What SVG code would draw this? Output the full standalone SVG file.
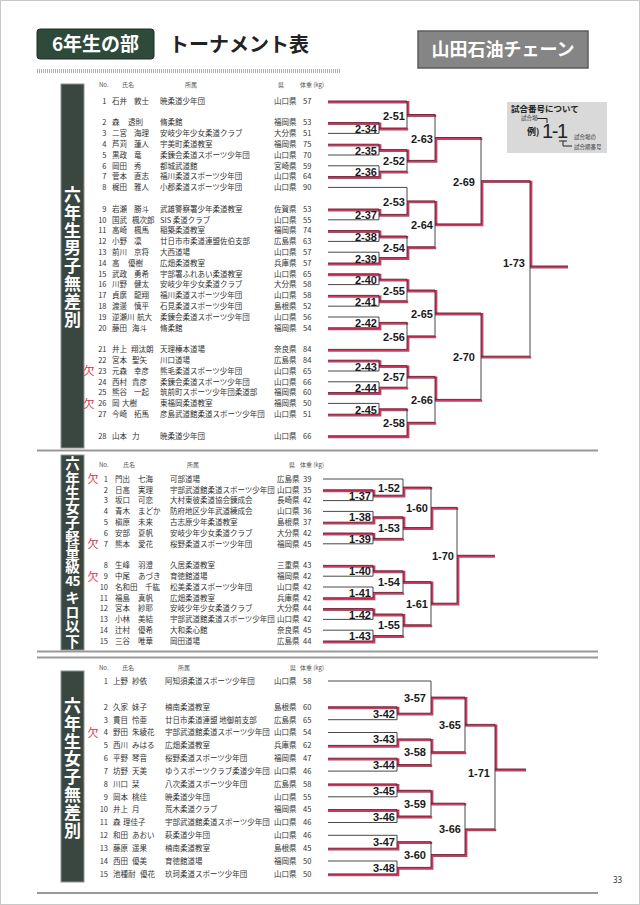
<svg xmlns="http://www.w3.org/2000/svg" width="640" height="905" viewBox="0 0 640 905">
<style>
.t{font-family:"Noto Sans CJK JP","Noto Sans",sans-serif;font-size:7.5px;fill:#333}
.n{text-anchor:end}
.h{font-size:6px;fill:#555}
.lb{font-family:"Liberation Sans",Arial,sans-serif;font-weight:bold;font-size:11px;fill:#1a1a1a;text-anchor:end}
.vt{font-family:"Noto Sans CJK JP",sans-serif;font-weight:bold;fill:#fff;text-anchor:middle}
.vv{font-family:"Noto Sans CJK JP",sans-serif;font-weight:bold;fill:#fff;writing-mode:vertical-rl;text-orientation:upright}
.ke{font-family:"Noto Sans CJK JP",sans-serif;font-size:11px;fill:#e0304a;text-anchor:middle}
.bk{fill:none;stroke:#333;stroke-width:0.9}
.rd{fill:none;stroke:#d8365f;stroke-width:2.4}
.vbox{fill:#3a4640;stroke:#8c948f;stroke-width:1}
.sep{stroke:#999;stroke-width:2}
</style>
<rect x="0.5" y="0.5" width="639" height="904" fill="#fff" stroke="#c8c8c8"/>
<g id="header">
<rect x="37" y="29" width="117" height="30" rx="3" fill="#2e4a3b" stroke="#1d2f25"/>
<text x="95.5" y="51" class="vt" font-size="19">6年生の部</text>
<text x="169" y="52" font-family="Noto Sans CJK JP,sans-serif" font-weight="bold" font-size="20" fill="#222">トーナメント表</text>
<line x1="37" y1="71" x2="341" y2="71" stroke="#999" stroke-width="4" stroke-dasharray="0.8 1.2"/>
<rect x="418" y="31" width="170" height="37" fill="#858585" stroke="#5c5c5c" stroke-width="1.5"/>
<text x="503" y="56" class="vt" font-size="18">山田石油チェーン</text>
</g>
<g id="info">
<rect x="507" y="102" width="100" height="51" fill="#d9d9d9"/>
<text x="511" y="112" font-family="Noto Sans CJK JP,sans-serif" font-weight="bold" font-size="8.5" fill="#222">試合番号について</text>
<text x="521" y="120" font-family="Noto Sans CJK JP,sans-serif" font-size="5.5" fill="#333">試合場</text>
<path d="M537 118.5H547V123" fill="none" stroke="#222" stroke-width="1"/>
<text x="527" y="135" font-family="Noto Sans CJK JP,sans-serif" font-weight="bold" font-size="9" fill="#222">例)</text>
<text x="542" y="138" font-family="Liberation Sans,Arial,sans-serif" font-size="20" fill="#222" textLength="26">1-1</text>
<path d="M559 141H567M563 141V146H572" fill="none" stroke="#222" stroke-width="1"/>
<text x="574" y="139" font-family="Noto Sans CJK JP,sans-serif" font-size="5.5" fill="#333">試合場の</text>
<text x="574" y="149" font-family="Noto Sans CJK JP,sans-serif" font-size="5.5" fill="#333">試合順番号</text>
</g>
<line class="sep" x1="37" y1="450.5" x2="598" y2="450.5"/>
<line class="sep" x1="37" y1="651.5" x2="598" y2="651.5"/>
<line class="sep" x1="37" y1="657.5" x2="598" y2="657.5"/>
<line class="sep" x1="37" y1="893" x2="598" y2="893"/>
<text x="613" y="883" font-family="Noto Sans,sans-serif" font-size="8" fill="#333">33</text>

<g id="label-s1">
<rect class="vbox" x="61" y="84" width="23" height="364"/>
<text class="vv" x="72.5" y="186" font-size="17" letter-spacing="0.8">六年生男子無差別</text>
</g>
<g id="label-s2">
<rect class="vbox" x="61" y="455" width="23" height="195"/>
<text class="vv" x="72.5" y="456" font-size="14.5" letter-spacing="0.3">六年生女子軽量級</text>
<text class="vt" x="72.5" y="585.5" font-size="13.5" letter-spacing="-0.6">45</text>
<text class="vv" x="72.5" y="590" font-size="14.5" letter-spacing="0.3">キロ以下</text>
</g>
<g id="label-s3">
<rect class="vbox" x="61" y="671" width="23" height="211"/>
<text class="vv" x="72.5" y="697" font-size="17" letter-spacing="0.8">六年生女子無差別</text>
</g>

<g id="connectors">
<path class="rd" d="M328 102.2H408.2V115.7H436.2M328 123.8H380.2V129.2H408.2M328 145.4H380.2V150.8H408.2V161.6H436.2V138.7H482.2M328 177.8H380.2V172.4H408.2M328 210.2H380.2V215.6H408.2V202.1H436.2V225.1H482.2V181.9H531.2V267.2H568M328 231.8H380.2V237.2H408.2M328 264.2H380.2V258.8H408.2V248H436.2M328 275H380.2V280.4H408.2V291.2H436.2V314.2H482.2V357.4H531.2M328 296.6H380.2V302H408.2M328 329H380.2V323.6H408.2M328 350.6H408.2V337.1H436.2M328 361.4H380.2V366.8H408.2V377.6H436.2V400.6H482.2M328 393.8H380.2V388.4H408.2M328 415.4H380.2V410H408.2M328 437H408.2V423.5H436.2"/>
<path class="rd" d="M323 491H374.2V496.4H404.2V488.3H432.2M323 523.4H374.2V518H404.2V528.8H432.2V508.6H458.2M323 534.2H374.2V539.6H404.2M323 566.6H374.2V572H404.2V582.8H432.2V604.4H458.2V556.5H495M323 599H374.2V593.6H404.2M323 609.8H374.2V615.2H404.2V626H432.2M323 642.2H374.2V636.8H404.2"/>
<path class="rd" d="M328 708H398.2V714.4H432.2V698.3H466.2V725.6H496.2V770.2H526M328 746.6H398.2V740.1H432.2V753H466.2M328 759.4H398.2V765.8H432.2M328 785.1H398.2V791.5H432.2V804.4H466.2M328 810.8H398.2V817.2H432.2M328 849.4H398.2V842.9H432.2M328 875.1H398.2V868.6H432.2V855.8H466.2V830.1H496.2"/>
<path class="bk" d="M328 122.6H379V133.4H328M328 144.2H379V155H328M328 165.8H379V176.6H328M328 209H379V219.8H328M328 230.6H379V241.4H328M328 252.2H379V263H328M328 273.8H379V284.6H328M328 295.4H379V306.2H328M328 317H379V327.8H328M328 360.2H379V371H328M328 381.8H379V392.6H328M328 403.4H379V414.2H328M328 101H407V128H379M379 149.6H407V171.2H379M328 187.4H407V214.4H379M379 236H407V257.6H379M379 279.2H407V300.8H379M379 322.4H407V349.4H328M379 365.6H407V387.2H379M379 408.8H407V435.8H328M407 114.5H435V160.4H407M407 200.9H435V246.8H407M407 290H435V335.9H407M407 376.4H435V422.3H407M435 137.5H481V223.9H435M435 313H481V399.4H435M481 180.7H530V356.2H481M530 266H568"/>
<path class="bk" d="M323 489.8H373V500.6H323M323 511.4H373V522.2H323M323 533H373V543.8H323M323 565.4H373V576.2H323M323 587H373V597.8H323M323 608.6H373V619.4H323M323 630.2H373V641H323M323 479H403V495.2H373M373 516.8H403V538.4H373M373 570.8H403V592.4H373M373 614H403V635.6H373M403 487.1H431V527.6H403M403 581.6H431V624.8H403M431 507.4H457V603.2H431M457 555.3H495"/>
<path class="bk" d="M328 706.8H397V719.7H328M328 732.5H397V745.4H328M328 758.2H397V771.1H328M328 783.9H397V796.8H328M328 809.6H397V822.5H328M328 835.3H397V848.2H328M328 861H397V873.9H328M328 681H431V713.2H397M397 738.9H431V764.6H397M397 790.3H431V816H397M397 841.7H431V867.4H397M431 697.1H465V751.8H431M431 803.2H465V854.6H431M465 724.4H495V828.9H465M495 769H526"/>
</g>

<g id="matches">
<g id="m2-34"><text class="lb" x="377" y="133">2-34</text></g>
<g id="m2-35"><text class="lb" x="377" y="154.6">2-35</text></g>
<g id="m2-36"><text class="lb" x="377" y="176.2">2-36</text></g>
<g id="m2-37"><text class="lb" x="377" y="219.4">2-37</text></g>
<g id="m2-38"><text class="lb" x="377" y="241">2-38</text></g>
<g id="m2-39"><text class="lb" x="377" y="262.6">2-39</text></g>
<g id="m2-40"><text class="lb" x="377" y="284.2">2-40</text></g>
<g id="m2-41"><text class="lb" x="377" y="305.8">2-41</text></g>
<g id="m2-42"><text class="lb" x="377" y="327.4">2-42</text></g>
<g id="m2-43"><text class="lb" x="377" y="370.6">2-43</text></g>
<g id="m2-44"><text class="lb" x="377" y="392.2">2-44</text></g>
<g id="m2-45"><text class="lb" x="377" y="413.8">2-45</text></g>
<g id="m2-51"><text class="lb" x="405" y="119.5">2-51</text></g>
<g id="m2-52"><text class="lb" x="405" y="165.4">2-52</text></g>
<g id="m2-53"><text class="lb" x="405" y="205.9">2-53</text></g>
<g id="m2-54"><text class="lb" x="405" y="251.8">2-54</text></g>
<g id="m2-55"><text class="lb" x="405" y="295">2-55</text></g>
<g id="m2-56"><text class="lb" x="405" y="340.9">2-56</text></g>
<g id="m2-57"><text class="lb" x="405" y="381.4">2-57</text></g>
<g id="m2-58"><text class="lb" x="405" y="427.3">2-58</text></g>
<g id="m2-63"><text class="lb" x="433" y="142.5">2-63</text></g>
<g id="m2-64"><text class="lb" x="433" y="228.9">2-64</text></g>
<g id="m2-65"><text class="lb" x="433" y="318">2-65</text></g>
<g id="m2-66"><text class="lb" x="433" y="404.4">2-66</text></g>
<g id="m2-69"><text class="lb" x="475" y="185.7">2-69</text></g>
<g id="m2-70"><text class="lb" x="475" y="361.2">2-70</text></g>
<g id="m1-73"><text class="lb" x="525" y="267">1-73</text></g>
<g id="m1-37"><text class="lb" x="371" y="499.7">1-37</text></g>
<g id="m1-38"><text class="lb" x="371" y="521.3">1-38</text></g>
<g id="m1-39"><text class="lb" x="371" y="542.9">1-39</text></g>
<g id="m1-40"><text class="lb" x="371" y="575.3">1-40</text></g>
<g id="m1-41"><text class="lb" x="371" y="596.9">1-41</text></g>
<g id="m1-42"><text class="lb" x="371" y="618.5">1-42</text></g>
<g id="m1-43"><text class="lb" x="371" y="640.1">1-43</text></g>
<g id="m1-52"><text class="lb" x="400" y="491.6">1-52</text></g>
<g id="m1-53"><text class="lb" x="400" y="532.1">1-53</text></g>
<g id="m1-54"><text class="lb" x="400" y="586.1">1-54</text></g>
<g id="m1-55"><text class="lb" x="400" y="629.3">1-55</text></g>
<g id="m1-60"><text class="lb" x="428" y="511.9">1-60</text></g>
<g id="m1-61"><text class="lb" x="428" y="607.7">1-61</text></g>
<g id="m1-70"><text class="lb" x="454" y="559.8">1-70</text></g>
<g id="m3-42"><text class="lb" x="395" y="717.7">3-42</text></g>
<g id="m3-43"><text class="lb" x="395" y="743.4">3-43</text></g>
<g id="m3-44"><text class="lb" x="395" y="769.1">3-44</text></g>
<g id="m3-45"><text class="lb" x="395" y="794.8">3-45</text></g>
<g id="m3-46"><text class="lb" x="395" y="820.5">3-46</text></g>
<g id="m3-47"><text class="lb" x="395" y="846.2">3-47</text></g>
<g id="m3-48"><text class="lb" x="395" y="871.9">3-48</text></g>
<g id="m3-57"><text class="lb" x="426" y="701.6">3-57</text></g>
<g id="m3-58"><text class="lb" x="426" y="756.3">3-58</text></g>
<g id="m3-59"><text class="lb" x="426" y="807.7">3-59</text></g>
<g id="m3-60"><text class="lb" x="426" y="859.1">3-60</text></g>
<g id="m3-65"><text class="lb" x="461" y="728.9">3-65</text></g>
<g id="m3-66"><text class="lb" x="461" y="833.4">3-66</text></g>
<g id="m1-71"><text class="lb" x="490" y="777">1-71</text></g>
</g>

<g id="s1" class="t">
<g class="h"><text x="99" y="87">No.</text><text x="122" y="87">氏名</text><text x="185" y="87">所属</text><text x="278" y="87">県</text><text x="300" y="87">体重 (kg)</text></g>
<g id="s1p1"><text class="n" x="106.5" y="103.8">1</text><text x="112" y="103.8">石井<tspan x="134">敦士</tspan></text><text x="160" y="103.8">暁柔道少年団</text><text x="274" y="103.8">山口県</text><text x="303" y="103.8">57</text></g>
<g id="s1p2"><text class="n" x="106.5" y="125.4">2</text><text x="112" y="125.4">森<tspan x="128">透則</tspan></text><text x="160" y="125.4">脩柔館</text><text x="274" y="125.4">福岡県</text><text x="303" y="125.4">53</text></g>
<g id="s1p3"><text class="n" x="106.5" y="136.2">3</text><text x="112" y="136.2">二宮<tspan x="134">海理</tspan></text><text x="160" y="136.2">安岐少年少女柔道クラブ</text><text x="274" y="136.2">大分県</text><text x="303" y="136.2">51</text></g>
<g id="s1p4"><text class="n" x="106.5" y="147">4</text><text x="112" y="147">芦苅<tspan x="134">蓮人</tspan></text><text x="160" y="147">宇美町柔道教室</text><text x="274" y="147">福岡県</text><text x="303" y="147">75</text></g>
<g id="s1p5"><text class="n" x="106.5" y="157.8">5</text><text x="112" y="157.8">黒政<tspan x="134">竜</tspan></text><text x="160" y="157.8">柔錬会柔道スポーツ少年団</text><text x="274" y="157.8">山口県</text><text x="303" y="157.8">70</text></g>
<g id="s1p6"><text class="n" x="106.5" y="168.6">6</text><text x="112" y="168.6">岡田<tspan x="134">秀</tspan></text><text x="160" y="168.6">都城武道館</text><text x="274" y="168.6">宮崎県</text><text x="303" y="168.6">59</text></g>
<g id="s1p7"><text class="n" x="106.5" y="179.4">7</text><text x="112" y="179.4">菅本<tspan x="134">直志</tspan></text><text x="160" y="179.4">福川柔道スポーツ少年団</text><text x="274" y="179.4">山口県</text><text x="303" y="179.4">64</text></g>
<g id="s1p8"><text class="n" x="106.5" y="190.2">8</text><text x="112" y="190.2">梶田<tspan x="134">雅人</tspan></text><text x="160" y="190.2">小郡柔道スポーツ少年団</text><text x="274" y="190.2">山口県</text><text x="303" y="190.2">90</text></g>
<g id="s1p9"><text class="n" x="106.5" y="211.8">9</text><text x="112" y="211.8">岩瀬<tspan x="134">勝斗</tspan></text><text x="160" y="211.8">武雄警察署少年柔道教室</text><text x="274" y="211.8">佐賀県</text><text x="303" y="211.8">53</text></g>
<g id="s1p10"><text class="n" x="106.5" y="222.6">10</text><text x="112" y="222.6">国武<tspan x="132">楓次郎</tspan></text><text x="160" y="222.6">SIS 柔道クラブ</text><text x="274" y="222.6">山口県</text><text x="303" y="222.6">55</text></g>
<g id="s1p11"><text class="n" x="106.5" y="233.4">11</text><text x="112" y="233.4">高崎<tspan x="134">楓馬</tspan></text><text x="160" y="233.4">稲築柔道教室</text><text x="274" y="233.4">福岡県</text><text x="303" y="233.4">74</text></g>
<g id="s1p12"><text class="n" x="106.5" y="244.2">12</text><text x="112" y="244.2">小野<tspan x="134">凛</tspan></text><text x="160" y="244.2">廿日市市柔道連盟佐伯支部</text><text x="274" y="244.2">広島県</text><text x="303" y="244.2">63</text></g>
<g id="s1p13"><text class="n" x="106.5" y="255">13</text><text x="112" y="255">前川<tspan x="134">京将</tspan></text><text x="160" y="255">大西道場</text><text x="274" y="255">山口県</text><text x="303" y="255">57</text></g>
<g id="s1p14"><text class="n" x="106.5" y="265.8">14</text><text x="112" y="265.8">高<tspan x="128">優樹</tspan></text><text x="160" y="265.8">広畑柔道教室</text><text x="274" y="265.8">兵庫県</text><text x="303" y="265.8">57</text></g>
<g id="s1p15"><text class="n" x="106.5" y="276.6">15</text><text x="112" y="276.6">武政<tspan x="134">勇希</tspan></text><text x="160" y="276.6">宇部署ふれあい柔道教室</text><text x="274" y="276.6">山口県</text><text x="303" y="276.6">65</text></g>
<g id="s1p16"><text class="n" x="106.5" y="287.4">16</text><text x="112" y="287.4">川野<tspan x="134">健太</tspan></text><text x="160" y="287.4">安岐少年少女柔道クラブ</text><text x="274" y="287.4">大分県</text><text x="303" y="287.4">58</text></g>
<g id="s1p17"><text class="n" x="106.5" y="298.2">17</text><text x="112" y="298.2">貞廣<tspan x="134">龍翔</tspan></text><text x="160" y="298.2">福川柔道スポーツ少年団</text><text x="274" y="298.2">山口県</text><text x="303" y="298.2">58</text></g>
<g id="s1p18"><text class="n" x="106.5" y="309">18</text><text x="112" y="309">渡邊<tspan x="134">慎平</tspan></text><text x="160" y="309">石見柔道スポーツ少年団</text><text x="274" y="309">島根県</text><text x="303" y="309">52</text></g>
<g id="s1p19"><text class="n" x="106.5" y="319.8">19</text><text x="112" y="319.8">逆瀬川<tspan x="137">航大</tspan></text><text x="160" y="319.8">柔錬会柔道スポーツ少年団</text><text x="274" y="319.8">山口県</text><text x="303" y="319.8">56</text></g>
<g id="s1p20"><text class="n" x="106.5" y="330.6">20</text><text x="112" y="330.6">藤田<tspan x="132">海斗</tspan></text><text x="160" y="330.6">脩柔館</text><text x="274" y="330.6">福岡県</text><text x="303" y="330.6">54</text></g>
<g id="s1p21"><text class="n" x="106.5" y="352.2">21</text><text x="112" y="352.2">井上<tspan x="131">翔汰朗</tspan></text><text x="160" y="352.2">天理榛本道場</text><text x="274" y="352.2">奈良県</text><text x="303" y="352.2">84</text></g>
<g id="s1p22"><text class="n" x="106.5" y="363">22</text><text x="112" y="363">宮本<tspan x="132">聖矢</tspan></text><text x="160" y="363">川口道場</text><text x="274" y="363">広島県</text><text x="303" y="363">84</text></g>
<g id="s1p23"><text class="n" x="106.5" y="373.8">23</text><text x="112" y="373.8">元森<tspan x="134">幸彦</tspan></text><text x="160" y="373.8">熊毛柔道スポーツ少年団</text><text x="274" y="373.8">山口県</text><text x="303" y="373.8">65</text></g>
<g id="s1p24"><text class="n" x="106.5" y="384.6">24</text><text x="112" y="384.6">西村<tspan x="132">貴彦</tspan></text><text x="160" y="384.6">柔錬会柔道スポーツ少年団</text><text x="274" y="384.6">山口県</text><text x="303" y="384.6">66</text></g>
<g id="s1p25"><text class="n" x="106.5" y="395.4">25</text><text x="112" y="395.4">熊谷<tspan x="134">一起</tspan></text><text x="160" y="395.4">筑前町スポーツ少年団柔道部</text><text x="274" y="395.4">福岡県</text><text x="303" y="395.4">60</text></g>
<g id="s1p26"><text class="n" x="106.5" y="406.2">26</text><text x="112" y="406.2">岡<tspan x="122">大樹</tspan></text><text x="160" y="406.2">東福岡柔道教室</text><text x="274" y="406.2">福岡県</text><text x="303" y="406.2">50</text></g>
<g id="s1p27"><text class="n" x="106.5" y="417">27</text><text x="112" y="417">今崎<tspan x="134">拓馬</tspan></text><text x="160" y="417">彦島武道館柔道スポーツ少年団</text><text x="274" y="417">山口県</text><text x="303" y="417">51</text></g>
<g id="s1p28"><text class="n" x="106.5" y="438.6">28</text><text x="112" y="438.6">山本<tspan x="132">力</tspan></text><text x="160" y="438.6">暁柔道少年団</text><text x="274" y="438.6">山口県</text><text x="303" y="438.6">66</text></g>
</g>

<g id="s2" class="t">
<g class="h"><text x="99" y="467">No.</text><text x="123" y="467">氏名</text><text x="187" y="467">所属</text><text x="289" y="467">県</text><text x="300" y="467">体重 (kg)</text></g>
<g id="s2p1"><text class="n" x="108" y="481.8">1</text><text x="115" y="481.8">門出<tspan x="138">七海</tspan></text><text x="170" y="481.8">可部道場</text><text x="277" y="481.8">広島県</text><text x="303" y="481.8">39</text></g>
<g id="s2p2"><text class="n" x="108" y="492.6">2</text><text x="115" y="492.6">日高<tspan x="138">実理</tspan></text><text x="170" y="492.6">宇部武道館柔道スポーツ少年団</text><text x="277" y="492.6">山口県</text><text x="303" y="492.6">35</text></g>
<g id="s2p3"><text class="n" x="108" y="503.4">3</text><text x="115" y="503.4">坂口<tspan x="138">可恋</tspan></text><text x="170" y="503.4">大村東彼柔道協会錬成会</text><text x="277" y="503.4">長崎県</text><text x="303" y="503.4">42</text></g>
<g id="s2p4"><text class="n" x="108" y="514.2">4</text><text x="115" y="514.2">青木<tspan x="138">まどか</tspan></text><text x="170" y="514.2">防府地区少年武道練成会</text><text x="277" y="514.2">山口県</text><text x="303" y="514.2">36</text></g>
<g id="s2p5"><text class="n" x="108" y="525">5</text><text x="115" y="525">槇原<tspan x="138">未来</tspan></text><text x="170" y="525">古志原少年柔道教室</text><text x="277" y="525">島根県</text><text x="303" y="525">37</text></g>
<g id="s2p6"><text class="n" x="108" y="535.8">6</text><text x="115" y="535.8">安部<tspan x="138">夏帆</tspan></text><text x="170" y="535.8">安岐少年少女柔道クラブ</text><text x="277" y="535.8">大分県</text><text x="303" y="535.8">42</text></g>
<g id="s2p7"><text class="n" x="108" y="546.6">7</text><text x="115" y="546.6">熊本<tspan x="138">愛花</tspan></text><text x="170" y="546.6">桜野柔道スポーツ少年団</text><text x="277" y="546.6">福岡県</text><text x="303" y="546.6">45</text></g>
<g id="s2p8"><text class="n" x="108" y="568.2">8</text><text x="115" y="568.2">生峰<tspan x="138">羽澄</tspan></text><text x="170" y="568.2">久居柔道教室</text><text x="277" y="568.2">三重県</text><text x="303" y="568.2">43</text></g>
<g id="s2p9"><text class="n" x="108" y="579">9</text><text x="115" y="579">中尾<tspan x="138">あづき</tspan></text><text x="170" y="579">育徳館道場</text><text x="277" y="579">福岡県</text><text x="303" y="579">42</text></g>
<g id="s2p10"><text class="n" x="108" y="589.8">10</text><text x="115" y="589.8">名和田<tspan x="145">千紘</tspan></text><text x="170" y="589.8">松美柔道スポーツ少年団</text><text x="277" y="589.8">山口県</text><text x="303" y="589.8">42</text></g>
<g id="s2p11"><text class="n" x="108" y="600.6">11</text><text x="115" y="600.6">福島<tspan x="138">真帆</tspan></text><text x="170" y="600.6">広畑柔道教室</text><text x="277" y="600.6">兵庫県</text><text x="303" y="600.6">42</text></g>
<g id="s2p12"><text class="n" x="108" y="611.4">12</text><text x="115" y="611.4">宮本<tspan x="138">紗耶</tspan></text><text x="170" y="611.4">安岐少年少女柔道クラブ</text><text x="277" y="611.4">大分県</text><text x="303" y="611.4">44</text></g>
<g id="s2p13"><text class="n" x="108" y="622.2">13</text><text x="115" y="622.2">小林<tspan x="138">美結</tspan></text><text x="170" y="622.2">宇部武道館柔道スポーツ少年団</text><text x="277" y="622.2">山口県</text><text x="303" y="622.2">42</text></g>
<g id="s2p14"><text class="n" x="108" y="633">14</text><text x="115" y="633">辻村<tspan x="138">優希</tspan></text><text x="170" y="633">大和柔心館</text><text x="277" y="633">奈良県</text><text x="303" y="633">45</text></g>
<g id="s2p15"><text class="n" x="108" y="643.8">15</text><text x="115" y="643.8">三谷<tspan x="138">唯華</tspan></text><text x="170" y="643.8">岡田道場</text><text x="277" y="643.8">広島県</text><text x="303" y="643.8">44</text></g>
</g>

<g id="s3" class="t">
<g class="h"><text x="99" y="670">No.</text><text x="122" y="670">氏名</text><text x="178" y="670">所属</text><text x="290" y="670">県</text><text x="300" y="670">体重 (kg)</text></g>
<g id="s3p1"><text class="n" x="108" y="683.8">1</text><text x="113" y="683.8">上野<tspan x="132">紗依</tspan></text><text x="165" y="683.8">阿知須柔道スポーツ少年団</text><text x="274" y="683.8">山口県</text><text x="303" y="683.8">58</text></g>
<g id="s3p2"><text class="n" x="108" y="709.6">2</text><text x="113" y="709.6">久家<tspan x="132">妹子</tspan></text><text x="165" y="709.6">楠南柔道教室</text><text x="274" y="709.6">島根県</text><text x="303" y="709.6">60</text></g>
<g id="s3p3"><text class="n" x="108" y="722.5">3</text><text x="113" y="722.5">貫目<tspan x="132">怜亜</tspan></text><text x="165" y="722.5">廿日市柔道連盟 地御前支部</text><text x="274" y="722.5">広島県</text><text x="303" y="722.5">65</text></g>
<g id="s3p4"><text class="n" x="108" y="735.3">4</text><text x="113" y="735.3">野田<tspan x="132">朱綾花</tspan></text><text x="165" y="735.3">宇部武道館柔道スポーツ少年団</text><text x="274" y="735.3">山口県</text><text x="303" y="735.3">54</text></g>
<g id="s3p5"><text class="n" x="108" y="748.2">5</text><text x="113" y="748.2">西川<tspan x="132">みはる</tspan></text><text x="165" y="748.2">広畑柔道教室</text><text x="274" y="748.2">兵庫県</text><text x="303" y="748.2">62</text></g>
<g id="s3p6"><text class="n" x="108" y="761">6</text><text x="113" y="761">平野<tspan x="132">琴音</tspan></text><text x="165" y="761">桜野柔道スポーツ少年団</text><text x="274" y="761">福岡県</text><text x="303" y="761">47</text></g>
<g id="s3p7"><text class="n" x="108" y="773.9">7</text><text x="113" y="773.9">坊野<tspan x="132">天美</tspan></text><text x="165" y="773.9">ゆうスポーツクラブ柔道少年団</text><text x="274" y="773.9">山口県</text><text x="303" y="773.9">46</text></g>
<g id="s3p8"><text class="n" x="108" y="786.7">8</text><text x="113" y="786.7">川口<tspan x="132">栞</tspan></text><text x="165" y="786.7">八次柔道スポーツ少年団</text><text x="274" y="786.7">広島県</text><text x="303" y="786.7">58</text></g>
<g id="s3p9"><text class="n" x="108" y="799.6">9</text><text x="113" y="799.6">岡本<tspan x="132">桃佳</tspan></text><text x="165" y="799.6">暁柔道少年団</text><text x="274" y="799.6">山口県</text><text x="303" y="799.6">55</text></g>
<g id="s3p10"><text class="n" x="108" y="812.4">10</text><text x="113" y="812.4">井上<tspan x="132">月</tspan></text><text x="165" y="812.4">荒木柔道クラブ</text><text x="274" y="812.4">福岡県</text><text x="303" y="812.4">45</text></g>
<g id="s3p11"><text class="n" x="108" y="825.3">11</text><text x="113" y="825.3">森<tspan x="123">理佳子</tspan></text><text x="165" y="825.3">宇部武道館柔道スポーツ少年団</text><text x="274" y="825.3">山口県</text><text x="303" y="825.3">46</text></g>
<g id="s3p12"><text class="n" x="108" y="838.1">12</text><text x="113" y="838.1">和田<tspan x="132">あおい</tspan></text><text x="165" y="838.1">萩柔道少年団</text><text x="274" y="838.1">山口県</text><text x="303" y="838.1">46</text></g>
<g id="s3p13"><text class="n" x="108" y="851">13</text><text x="113" y="851">藤原<tspan x="132">遥果</tspan></text><text x="165" y="851">楠南柔道教室</text><text x="274" y="851">島根県</text><text x="303" y="851">45</text></g>
<g id="s3p14"><text class="n" x="108" y="863.8">14</text><text x="113" y="863.8">西田<tspan x="132">優美</tspan></text><text x="165" y="863.8">育徳館道場</text><text x="274" y="863.8">福岡県</text><text x="303" y="863.8">50</text></g>
<g id="s3p15"><text class="n" x="108" y="876.7">15</text><text x="113" y="876.7">池種耐<tspan x="140">優花</tspan></text><text x="165" y="876.7">玖珂柔道スポーツ少年団</text><text x="274" y="876.7">山口県</text><text x="303" y="876.7">50</text></g>
</g>

<g id="absent">
<text class="ke" x="89" y="375">欠</text>
<text class="ke" x="89" y="407.5">欠</text>
<text class="ke" x="93" y="483">欠</text>
<text class="ke" x="93" y="548">欠</text>
<text class="ke" x="93" y="580.5">欠</text>
<text class="ke" x="93" y="737">欠</text>
</g>
</svg>
